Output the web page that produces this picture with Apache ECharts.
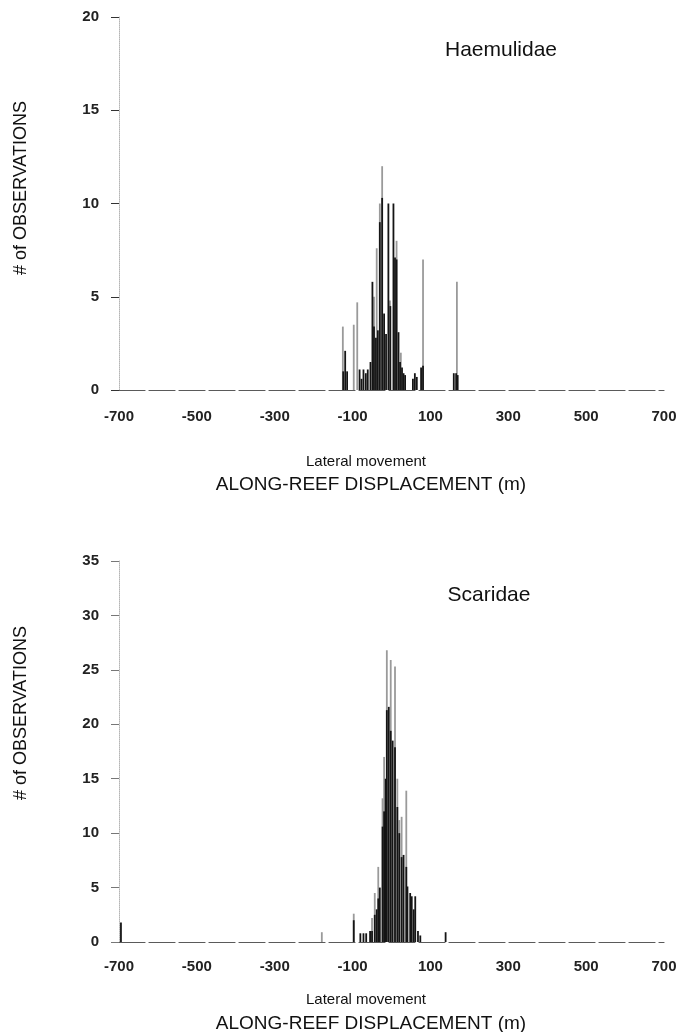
<!DOCTYPE html>
<html>
<head>
<meta charset="utf-8">
<script src="https://cdn.jsdelivr.net/npm/echarts@6/dist/echarts.min.js"></script>
<style>
html,body{margin:0;padding:0;background:#fff;}
#c{width:680px;height:1032px;}
</style>
</head>
<body>
<div id="c"></div>
<script>
// ---- data ----
var xTicks = [-700, -500, -300, -100, 100, 300, 500, 700];
var topYTicks = [0, 5, 10, 15, 20];
var botYTicks = [0, 5, 10, 15, 20, 25, 30, 35];

// Haemulidae: faint (grey) parts of bars
var topGrayPos = [-125, -97, -88, -45, -38, -30, -24, -4, 13, 24, 81, 168];
var topGrayVal = [3.4, 3.5, 4.7, 5.0, 7.6, 10.0, 12.0, 4.8, 8.0, 2.0, 7.0, 5.8];
// Haemulidae: solid (dark) parts of bars
var topDarkPos = [-124, -119, -114, -82, -77, -72, -66, -61, -54, -49, -45, -40, -35, -30, -24, -19, -14, -8, -3, 5, 9, 13, 18, 22, 27, 31, 35, 55, 60, 65, 76, 81, 160, 166, 170];
var topDarkVal = [1.0, 2.1, 1.0, 1.1, 0.6, 1.1, 0.9, 1.1, 1.5, 5.8, 3.4, 2.8, 3.2, 9.0, 10.3, 4.1, 3.0, 10.0, 4.5, 10.0, 7.1, 7.0, 3.1, 1.5, 1.2, 0.9, 0.8, 0.6, 0.9, 0.7, 1.2, 1.3, 0.9, 0.9, 0.8];

// Scaridae: faint (grey) parts of bars
var botGrayPos = [-179, -97, -50, -43, -34, -23, -19, -12, -2, 9, 15, 20, 26, 38];
var botGrayVal = [0.9, 2.6, 2.2, 4.5, 6.9, 13.2, 17.0, 26.8, 25.9, 25.3, 15.0, 11.2, 11.5, 13.9];
// Scaridae: solid (dark) parts of bars
var botDarkPos = [-695, -97, -80, -72, -65, -55, -50, -43, -38, -34, -30, -23, -19, -15, -12, -7, -2, 3, 9, 15, 20, 26, 31, 38, 41, 48, 52, 57, 61, 68, 74, 139];
var botDarkVal = [1.8, 2.0, 0.8, 0.8, 0.8, 1.0, 1.0, 2.5, 3.0, 4.0, 5.0, 10.6, 12.0, 15.0, 21.3, 21.6, 19.4, 18.5, 17.9, 12.4, 10.0, 7.8, 8.0, 6.9, 5.1, 4.5, 4.2, 3.0, 4.2, 1.0, 0.6, 0.9];

var titles = ['Haemulidae', 'Scaridae'];
var yName = '# of OBSERVATIONS';
var xSub = 'Lateral movement';
var xName = 'ALONG-REEF DISPLACEMENT (m)';

function pairs(p, v) { return p.map(function (x, i) { return [x, v[i]]; }); }

var FONT = '"Liberation Sans", Arial, Helvetica, sans-serif';

function xAxis(grid, margin) {
  return {
    type: 'value', gridIndex: grid, min: -700, max: 700, interval: 200,
    axisLine: { show: true, onZero: false, lineStyle: { color: '#5a5a5a', width: 1.2, type: [26, 4] } },
    axisTick: { show: false },
    splitLine: { show: false },
    axisLabel: { margin: margin, color: '#222', fontSize: 15, fontFamily: FONT, fontWeight: 'bold' }
  };
}
function yAxis(grid, max, tickColor) {
  return {
    type: 'value', gridIndex: grid, min: 0, max: max, interval: 5,
    axisLine: { show: true, onZero: false, lineStyle: { color: '#b5b5b5', width: 1, type: 'dotted' } },
    axisTick: { show: true, length: 8, lineStyle: { color: tickColor, width: 1 } },
    splitLine: { show: false },
    axisLabel: { margin: 20, color: '#222', fontSize: 15, fontFamily: FONT, fontWeight: 'bold' }
  };
}
function bars(grid, data, color, z) {
  return {
    type: 'bar', xAxisIndex: grid, yAxisIndex: grid, data: data,
    barWidth: 1.8, barGap: '-100%', itemStyle: { color: color }, z: z,
    silent: true, animation: false
  };
}
function txt(x, y, s, size, extra) {
  var o = { type: 'text', x: x, y: y,
    style: { text: s, font: size + 'px ' + FONT, fill: '#111', align: 'center', verticalAlign: 'middle' } };
  if (extra) { for (var k in extra) o[k] = extra[k]; }
  return o;
}

var chart = echarts.init(document.getElementById('c'), null, { renderer: 'canvas' });
chart.setOption({
  backgroundColor: '#fff',
  animation: false,
  grid: [
    { left: 119, right: 16, top: 17, height: 373 },
    { left: 119, right: 16, top: 561, height: 381 }
  ],
  xAxis: [xAxis(0, 19), xAxis(1, 17)],
  yAxis: [yAxis(0, 20, '#333'), yAxis(1, 35, '#777')],
  series: [
    bars(0, pairs(topGrayPos, topGrayVal), '#9a9a9a', 2),
    bars(0, pairs(topDarkPos, topDarkVal), '#151515', 3),
    bars(1, pairs(botGrayPos, botGrayVal), '#9a9a9a', 2),
    bars(1, pairs(botDarkPos, botDarkVal), '#151515', 3)
  ],
  graphic: [
    txt(501, 50, titles[0], 21),
    txt(489, 595, titles[1], 21),
    txt(21, 188, yName, 18, { rotation: Math.PI / 2 }),
    txt(21, 713, yName, 18, { rotation: Math.PI / 2 }),
    txt(366, 462, xSub, 15),
    txt(371, 485, xName, 19),
    txt(366, 1000, xSub, 15),
    txt(371, 1024, xName, 19)
  ]
});
</script>
</body>
</html>
